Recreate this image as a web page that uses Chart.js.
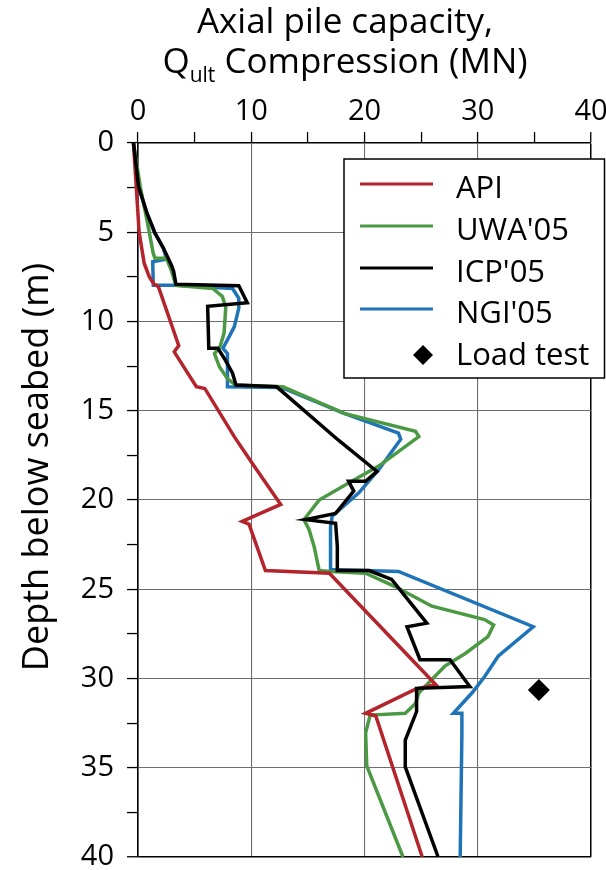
<!DOCTYPE html>
<html>
<head>
<meta charset="utf-8">
<title>Axial pile capacity</title>
<script src="https://cdn.jsdelivr.net/npm/chart.js@4.4.1/dist/chart.umd.min.js"></script>
<style>
  html, body { margin: 0; padding: 0; background: #fff; }
  canvas { display: block; }
</style>
</head>
<body>
<canvas id="pile" width="606" height="870"></canvas>
<script>
const FONT = "'Open Sans', 'Noto Sans', sans-serif";

// depth below seabed (m) / capacity Q (MN) for each method
const apiDepth = [0, 2.5, 5, 6.75, 7.5, 7.9, 8.05, 11.35, 11.7, 13.65, 13.75, 16.45, 17.95, 20.25, 21.2, 21.35, 23.95, 24.1, 30.35, 30.6, 31.95, 32.1, 40];
const apiQ     = [-0.4, -0.15, 0.1, 0.55, 1.0, 1.4, 1.8, 3.6, 3.2, 5.15, 5.9, 8.5, 10.1, 12.6, 9.2, 9.8, 11.25, 16.9, 26.3, 24.5, 20.1, 21.0, 25.1];

const uwaDepth = [0, 2.45, 4.35, 6.2, 6.45, 6.45, 7.15, 7.97, 8.15, 8.6, 9.2, 10.65, 11.4, 11.8, 12.55, 13.2, 13.56, 13.66, 15.15, 16.15, 16.45, 18.1, 19.05, 20.0, 21.1, 21.65, 22.6, 23.95, 24.0, 24.1, 24.85, 25.95, 26.7, 27.0, 27.65, 28.6, 29.3, 30.25, 30.8, 31.4, 31.95, 32.05, 33.05, 34.9, 40];
const uwaQ     = [-0.4, 0.2, 0.8, 1.35, 1.5, 2.5, 2.95, 3.35, 6.6, 7.45, 7.75, 7.6, 7.25, 6.75, 7.2, 7.9, 8.6, 12.8, 18.2, 24.5, 24.8, 21.25, 18.6, 16.0, 14.65, 15.1, 15.55, 16.0, 17.0, 20.1, 22.7, 25.95, 30.6, 31.4, 30.9, 28.9, 27.1, 25.65, 24.8, 24.5, 23.6, 20.5, 20.1, 20.2, 23.4];

const icpDepth = [0, 2.45, 3.95, 5.05, 5.9, 6.85, 7.2, 7.92, 8.0, 8.95, 9.15, 11.5, 11.5, 12.15, 12.9, 13.56, 13.66, 16.65, 18.4, 18.95, 18.95, 19.5, 20.75, 21.1, 21.3, 22.6, 23.95, 23.95, 24.45, 26.9, 27.1, 28.95, 28.95, 30.45, 30.55, 31.85, 33.45, 34.95, 40];
const icpQ     = [-0.4, 0.05, 0.8, 1.5, 2.25, 2.95, 3.15, 3.35, 8.9, 9.65, 6.15, 6.25, 7.05, 7.7, 8.35, 8.65, 12.25, 17.7, 21.1, 20.1, 18.6, 19.05, 17.45, 14.8, 17.45, 17.6, 17.6, 20.4, 22.4, 25.5, 23.75, 24.9, 27.55, 29.3, 24.6, 24.6, 23.6, 23.6, 26.5];

const ngiDepth = [0, 2.45, 3.95, 5.05, 5.9, 6.5, 6.65, 7.97, 7.97, 8.15, 8.7, 9.25, 10.3, 10.85, 11.5, 11.8, 13.66, 13.7, 15.15, 16.25, 16.6, 18.3, 19.6, 20.9, 21.5, 23.9, 24.0, 27.1, 28.75, 29.9, 30.8, 31.95, 31.95, 33.05, 40];
const ngiQ     = [-0.4, 0.05, 0.8, 1.5, 2.25, 2.5, 1.3, 1.35, 3.35, 8.35, 8.9, 8.9, 8.5, 8.05, 7.5, 7.9, 7.9, 12.7, 18.2, 23.0, 23.2, 21.25, 19.5, 17.15, 17.0, 17.0, 23.0, 34.9, 31.8, 30.6, 29.5, 27.85, 28.6, 28.6, 28.45];

const loadTestDepth = [30.65];
const loadTestQ     = [35.4];

// labelled ticks
const qLabels = [0, 10, 20, 30, 40];
const depthLabels = [0, 5, 10, 15, 20, 25, 30, 35, 40];

const toPoints = (depth, q) => depth.map((d, i) => ({ x: q[i], y: d }));

const series = [
  { label: 'API',     color: '#b3242c', data: toPoints(apiDepth, apiQ), order: 1 },
  { label: "UWA'05",  color: '#4c9944', data: toPoints(uwaDepth, uwaQ), order: 2 },
  { label: "ICP'05",  color: '#000000', data: toPoints(icpDepth, icpQ), order: 0 },
  { label: "NGI'05",  color: '#1f74b8', data: toPoints(ngiDepth, ngiQ), order: 3 }
];

const datasets = series.map(s => ({
  label: s.label,
  data: s.data,
  showLine: true,
  borderColor: s.color,
  backgroundColor: s.color,
  borderWidth: 3.5,
  pointRadius: 0,
  tension: 0,
  clip: false,
  order: s.order
}));
datasets.push({
  label: 'Load test',
  data: toPoints(loadTestDepth, loadTestQ),
  showLine: false,
  pointStyle: 'rectRot',
  pointRadius: 11,
  backgroundColor: '#000',
  borderColor: '#000',
  borderWidth: 0,
  order: -1
});

// titles: two-line top title with subscript, rotated depth title
const axisTitles = {
  id: 'axisTitles',
  afterDraw(chart) {
    const ctx = chart.ctx;
    ctx.save();
    ctx.fillStyle = '#000';
    ctx.textBaseline = 'alphabetic';
    ctx.textAlign = 'center';
    ctx.font = `35px ${FONT}`;
    ctx.fillText('Axial pile capacity,', 345, 33);

    const mainFont = `35px ${FONT}`, subFont = `21px ${FONT}`;
    ctx.font = mainFont;
    const wQ = ctx.measureText('Q').width;
    const wRest = ctx.measureText(' Compression (MN)').width;
    ctx.font = subFont;
    const wSub = ctx.measureText('ult').width;
    let x = 345 - (wQ + wSub + wRest) / 2;
    ctx.textAlign = 'left';
    ctx.font = mainFont;
    ctx.fillText('Q', x, 73);
    x += wQ;
    ctx.font = subFont;
    ctx.fillText('ult', x, 82);
    x += wSub;
    ctx.font = mainFont;
    ctx.fillText(' Compression (MN)', x, 73);

    ctx.translate(48, 467);
    ctx.rotate(-Math.PI / 2);
    ctx.textAlign = 'center';
    ctx.font = `36px ${FONT}`;
    ctx.fillText('Depth below seabed (m)', 0, 0);
    ctx.restore();
  }
};

// boxed legend inside the plot, top right
const boxLegend = {
  id: 'boxLegend',
  afterDatasetsDraw(chart) {
    const ctx = chart.ctx;
    ctx.save();
    ctx.fillStyle = '#fff';
    ctx.fillRect(344, 159, 262, 219);
    ctx.strokeStyle = '#000';
    ctx.lineWidth = 1.5;
    ctx.strokeRect(344, 159, 260.5, 219);

    const rows = [198, 240, 282, 323, 365];
    ctx.font = `31px ${FONT}`;
    ctx.textAlign = 'left';
    ctx.textBaseline = 'alphabetic';
    series.forEach((s, i) => {
      const y = rows[i] - 14;
      ctx.strokeStyle = s.color;
      ctx.lineWidth = 3;
      ctx.beginPath();
      ctx.moveTo(360, y);
      ctx.lineTo(433, y);
      ctx.stroke();
      ctx.fillStyle = '#000';
      ctx.fillText(s.label, 456, rows[i]);
    });
    const dy = rows[4] - 10;
    ctx.fillStyle = '#000';
    ctx.beginPath();
    ctx.moveTo(423, dy - 10);
    ctx.lineTo(433, dy);
    ctx.lineTo(423, dy + 10);
    ctx.lineTo(413, dy);
    ctx.closePath();
    ctx.fill();
    ctx.fillText('Load test', 456, rows[4]);
    ctx.restore();
  }
};

const gridColor = (major) => (ctx) => {
  const v = ctx.tick.value;
  if (v === 0 || v === 40) return '#000';
  return v % major === 0 ? '#6e6e6e' : 'rgba(0,0,0,0)';
};

new Chart(document.getElementById('pile').getContext('2d'), {
  type: 'scatter',
  data: { datasets },
  plugins: [axisTitles, boxLegend],
  options: {
    responsive: false,
    animation: false,
    layout: { padding: { top: 0, left: 0, right: 15, bottom: 13 } },
    plugins: { legend: { display: false }, tooltip: { enabled: false } },
    scales: {
      x: {
        type: 'linear',
        position: 'top',
        min: 0,
        max: 40,
        ticks: {
          stepSize: 5,
          autoSkip: false,
          maxRotation: 0,
          padding: 3,
          color: '#000',
          font: { family: FONT, size: 29 },
          callback: v => qLabels.includes(v) ? String(v) : ''
        },
        grid: {
          color: gridColor(10),
          lineWidth: ctx => (ctx.tick.value === 40 ? 1.5 : 1.1),
          tickColor: '#000',
          tickLength: 11,
          tickWidth: 1.3
        },
        border: { color: '#000', width: 1.6 },
        afterFit(scale) {
          scale.height = 143;
          scale.paddingLeft = 0;
          scale.paddingRight = 0;
        }
      },
      y: {
        type: 'linear',
        reverse: true,
        min: 0,
        max: 40,
        ticks: {
          stepSize: 2.5,
          autoSkip: false,
          padding: 13,
          color: '#000',
          font: { family: FONT, size: 29 },
          callback: v => depthLabels.includes(v) ? String(v) : ''
        },
        grid: {
          color: gridColor(5),
          lineWidth: ctx => (ctx.tick.value === 40 ? 1.5 : 1.1),
          tickColor: '#000',
          tickLength: 11,
          tickWidth: 1.3
        },
        border: { color: '#000', width: 1.6 },
        afterFit(scale) {
          scale.width = 138;
          scale.paddingTop = 0;
          scale.paddingBottom = 0;
        }
      }
    }
  }
});
</script>
</body>
</html>
